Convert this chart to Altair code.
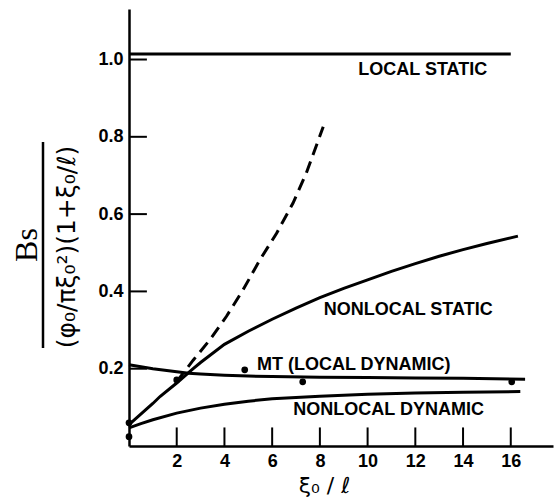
import altair as alt
import pandas as pd

# --- data ---
ls_x = [0.0, 16.0]
ls_y = [1.014, 1.014]

nls_x = [0, 1, 1.3, 2, 2.69, 3, 4, 5, 6, 7, 8, 9, 10, 11, 12, 13, 14, 15, 16.3]
nls_y = [0.055, 0.11, 0.128, 0.163, 0.2, 0.216, 0.263, 0.297, 0.328, 0.357, 0.384,
         0.408, 0.43, 0.452, 0.472, 0.491, 0.508, 0.524, 0.543]

mt_x = [0, 0.5, 1, 1.5, 2, 2.5, 3, 4, 5, 6, 8, 10, 12, 14, 16.6]
mt_y = [0.21, 0.205, 0.2, 0.196, 0.192, 0.188, 0.186, 0.183, 0.181, 0.18, 0.178,
        0.177, 0.176, 0.175, 0.173]

nld_x = [0, 0.5, 1, 2, 3, 4, 5, 6, 8, 10, 12, 14, 16.4]
nld_y = [0.047, 0.058, 0.068, 0.085, 0.098, 0.108, 0.116, 0.122, 0.129, 0.134,
         0.137, 0.139, 0.141]

dash_x = [1.99, 2.69, 3.38, 4.08, 4.78, 5.48, 6.18, 6.87, 7.43, 8.14]
dash_y = [0.166, 0.222, 0.274, 0.335, 0.404, 0.481, 0.550, 0.628, 0.706, 0.826]

dot_x = [0, 0, 2.0, 4.85, 7.28, 16.04]
dot_y = [0.06, 0.024, 0.171, 0.197, 0.166, 0.166]

x_ticks = [2, 4, 6, 8, 10, 12, 14, 16]
y_ticks = [0.2, 0.4, 0.6, 0.8, 1.0]

labels = ["LOCAL STATIC", "NONLOCAL STATIC", "MT (LOCAL DYNAMIC)", "NONLOCAL DYNAMIC"]
label_x = [12.31, 11.70, 9.42, 10.88]
label_y = [0.973, 0.352, 0.2096, 0.093]

x_title = "ξ₀ / ℓ"
y_num = ["Bs"]
y_den = ["(φ₀/πξ₀²)(1+ξ₀/ℓ)"]

XMAX = 17.77
YMAX = 1.1307

# --- build tables ---
solid = pd.concat([
    pd.DataFrame({"x": ls_x, "y": ls_y, "s": "local static"}),
    pd.DataFrame({"x": nls_x, "y": nls_y, "s": "nonlocal static"}),
    pd.DataFrame({"x": mt_x, "y": mt_y, "s": "mt"}),
    pd.DataFrame({"x": nld_x, "y": nld_y, "s": "nonlocal dynamic"}),
])
dashed = pd.DataFrame({"x": dash_x, "y": dash_y})
dots = pd.DataFrame({"x": dot_x, "y": dot_y})
xt = pd.DataFrame({"x": x_ticks, "y0": 0.0, "y1": 0.048})
yt = pd.DataFrame({"y": y_ticks, "x0": 0.0, "x1": 0.75})
lab = pd.DataFrame({"x": label_x, "y": label_y, "t": labels})

xs = alt.Scale(domain=[0, XMAX], nice=False, zero=False)
ys = alt.Scale(domain=[0, YMAX], nice=False, zero=False)

xaxis = alt.Axis(values=x_ticks, ticks=False, tickSize=0, grid=False, domain=True,
                 domainColor="black", domainWidth=2.5, labelPadding=6,
                 labelFont="Liberation Sans", labelFontSize=18, labelFontWeight="bold",
                 labelColor="black", title=x_title, titleFont="DejaVu Sans",
                 titleFontSize=22, titleFontWeight="normal", titleColor="black",
                 titleX=195, titleY=29, titleBaseline="top", titleAlign="center",
                 labelFlush=False)
yaxis = alt.Axis(values=y_ticks, format=".1f", ticks=False, tickSize=0, grid=False,
                 domain=True, domainColor="black", domainWidth=2.5, labelPadding=6,
                 labelFont="Liberation Sans", labelFontSize=18, labelFontWeight="bold",
                 labelColor="black", title=None, labelFlush=False)

base_solid = alt.Chart(solid).mark_line(color="black", strokeWidth=3).encode(
    x=alt.X("x:Q", scale=xs, axis=xaxis),
    y=alt.Y("y:Q", scale=ys, axis=yaxis),
    detail="s:N",
)
dash_layer = alt.Chart(dashed).mark_line(color="black", strokeWidth=3,
                                          strokeDash=[12, 7]).encode(
    x=alt.X("x:Q", scale=xs), y=alt.Y("y:Q", scale=ys))
dot_layer = alt.Chart(dots).mark_circle(color="black", size=45, opacity=1).encode(
    x=alt.X("x:Q", scale=xs), y=alt.Y("y:Q", scale=ys))
xtick_layer = alt.Chart(xt).mark_rule(color="black", strokeWidth=2).encode(
    x=alt.X("x:Q", scale=xs), y=alt.Y("y0:Q", scale=ys), y2="y1:Q")
ytick_layer = alt.Chart(yt).mark_rule(color="black", strokeWidth=2).encode(
    y=alt.Y("y:Q", scale=ys), x=alt.X("x0:Q", scale=xs), x2="x1:Q")
label_layer = alt.Chart(lab).mark_text(font="Liberation Sans", fontSize=18,
                                        fontWeight="bold", color="black",
                                        align="center", baseline="middle").encode(
    x=alt.X("x:Q", scale=xs), y=alt.Y("y:Q", scale=ys), text="t:N")

num_layer = alt.Chart(pd.DataFrame({"t": y_num})).mark_text(
    font="Liberation Serif", fontSize=32, color="black", angle=270,
    align="center", baseline="middle").encode(
    x=alt.value(-102), y=alt.value(236), text="t:N")
bar_layer = alt.Chart(pd.DataFrame({"t": y_num})).mark_rule(
    color="black", strokeWidth=2.5).encode(
    x=alt.value(-86), y=alt.value(133), y2=alt.value(339))
den_layer = alt.Chart(pd.DataFrame({"t": y_den})).mark_text(
    font="DejaVu Sans", fontSize=25, color="black", angle=270,
    align="center", baseline="middle").encode(
    x=alt.value(-62), y=alt.value(238), text="t:N")

chart = alt.layer(
    base_solid, dash_layer, dot_layer, xtick_layer, ytick_layer, label_layer,
    num_layer, bar_layer, den_layer
).properties(
    width=424, height=437,
    autosize=alt.AutoSizeParams(type="none"),
    padding={"left": 129, "top": 9, "right": 1, "bottom": 58},
    background="white",
).configure_view(stroke=None)

chart.save("out.html", embed_options={"renderer": "svg", "actions": False})
